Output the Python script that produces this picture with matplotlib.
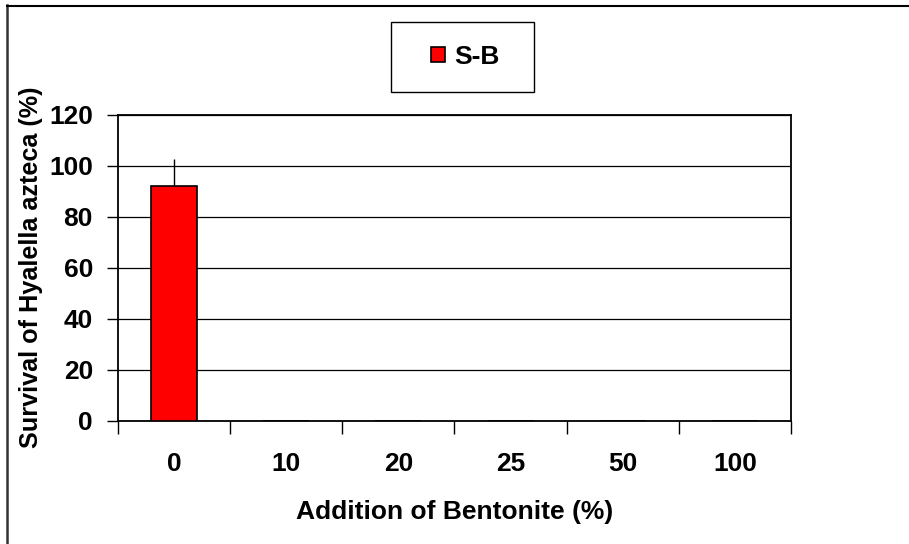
import matplotlib
matplotlib.use("Agg")
import matplotlib.pyplot as plt
from matplotlib.lines import Line2D
from matplotlib.patches import Rectangle
import numpy as np

categories = ['0', '10', '20', '25', '50', '100']
survival = [92.2, 0, 0, 0, 0, 0]
errors = [10.5, 0, 0, 0, 0, 0]
series_name = 'S-B'

plt.rcParams['font.family'] = ['Liberation Sans', 'DejaVu Sans']
plt.rcParams['font.weight'] = 'bold'
fs = 19

fig = plt.figure(figsize=(9.09, 5.44), dpi=100)
ax = fig.add_axes([118 / 909, 1 - 421 / 544, (791 - 118) / 909, (421 - 114.5) / 544])

x = np.arange(len(categories))
err_shown = [e if e > 0 else np.nan for e in errors]
ax.bar(x, survival, width=0.41, color='#ff0000', edgecolor='black', linewidth=1.2,
       label=series_name, zorder=3)
ax.errorbar(x, survival, yerr=[np.zeros(len(x)), err_shown], fmt='none',
            ecolor='black', elinewidth=1, capsize=0, zorder=2)

ax.set_xlim(-0.5, len(categories) - 0.5)
ax.set_ylim(0, 120)
ax.set_yticks(np.arange(0, 121, 20))
ax.yaxis.grid(True, color='black', linewidth=0.9, zorder=0)
ax.set_axisbelow(True)

ax.set_xticks(x)
ax.set_xticklabels(categories, fontsize=fs, fontweight='bold')
ax.set_xticks(np.arange(-0.5, len(categories)), minor=True)
ax.tick_params(axis='x', which='major', length=0, pad=22)
ax.tick_params(axis='x', which='minor', length=9, width=1, direction='out')
ax.tick_params(axis='y', length=8, width=1, pad=10, labelsize=fs)
for lab in ax.get_yticklabels():
    lab.set_fontweight('bold')

for s in ax.spines.values():
    s.set_linewidth(1.3)
    s.set_color('black')

ax.set_xlabel('Addition of Bentonite (%)', fontsize=fs, fontweight='bold', labelpad=17.5)
ax.set_ylabel('Survival of Hyalella azteca (%)', fontsize=18.2, fontweight='bold', labelpad=4.5)

# legend box drawn by hand so its size matches
box_l, box_r, box_t, box_b = 391, 534, 21.5, 92
fig.add_artist(Rectangle((box_l / 909, 1 - box_b / 544), (box_r - box_l) / 909,
                         (box_b - box_t) / 544, transform=fig.transFigure,
                         facecolor='white', edgecolor='black', linewidth=1, zorder=5))
leg = fig.legend(loc='center', bbox_to_anchor=((box_l + box_r) / 2 / 909 + 3 / 909,
                                               1 - (box_t + box_b) / 2 / 544),
                 frameon=False, prop={'size': fs, 'weight': 'bold'},
                 handlelength=0.53, handleheight=0.53, handletextpad=0.34,
                 borderpad=0, borderaxespad=0)
leg.set_zorder(6)

# outer frame: top and left lines only
fig.add_artist(Line2D([6.5 / 909, 6.5 / 909], [0, 1 - 5 / 544], transform=fig.transFigure,
                      color='#333333', linewidth=1.8))
fig.add_artist(Line2D([6.5 / 909, 1], [1 - 5.5 / 544, 1 - 5.5 / 544], transform=fig.transFigure,
                      color='black', linewidth=1.5))

fig.savefig('out.png', dpi=100)
